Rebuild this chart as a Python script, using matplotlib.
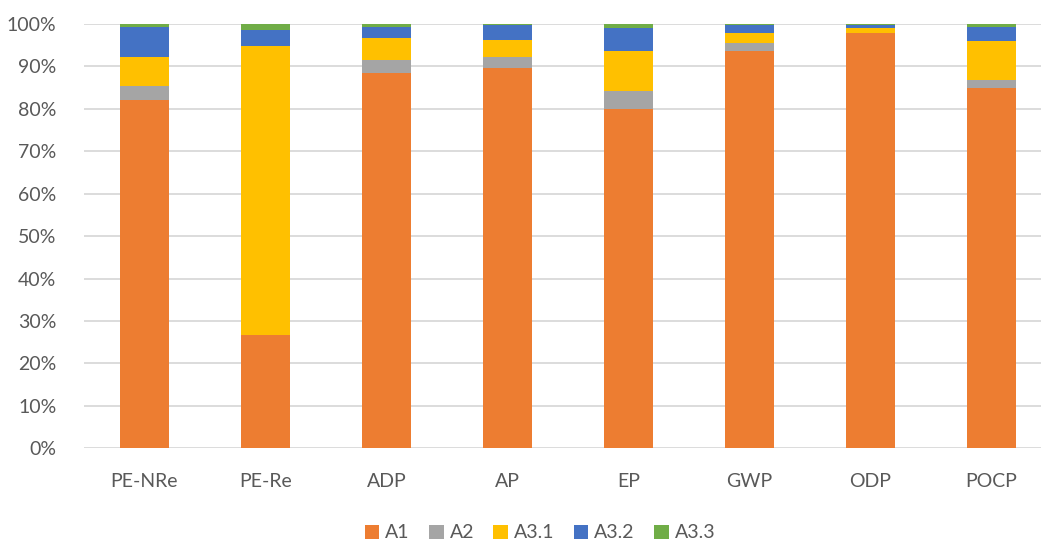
import numpy as np
import matplotlib.pyplot as plt
from matplotlib.ticker import PercentFormatter

categories = ['PE-NRe', 'PE-Re', 'ADP', 'AP', 'EP', 'GWP', 'ODP', 'POCP']
a1 = [82.0, 26.6, 88.4, 89.6, 80.0, 93.7, 97.8, 85.0]
a2 = [3.4, 0.0, 3.0, 2.6, 4.3, 1.9, 0.0, 1.9]
a3_1 = [6.8, 68.3, 5.3, 4.1, 9.3, 2.2, 1.2, 9.0]
a3_2 = [7.1, 3.7, 2.7, 3.4, 5.4, 1.9, 0.7, 3.5]
a3_3 = [0.7, 1.4, 0.6, 0.3, 1.0, 0.3, 0.3, 0.6]

series = [('A1', a1, '#ED7D31'), ('A2', a2, '#A5A5A5'), ('A3.1', a3_1, '#FFC000'),
          ('A3.2', a3_2, '#4472C4'), ('A3.3', a3_3, '#70AD47')]

plt.rcParams['font.family'] = ['Lato', 'DejaVu Sans']

fig = plt.figure(figsize=(10.41, 5.40), dpi=100)
# plot area runs past the right edge, as in the cropped original
ax = fig.add_axes([84 / 1041, 1 - 448.3 / 540, 968 / 1041, 424.3 / 540])

x = np.arange(len(categories))
bottom = np.zeros(len(categories))
for name, vals, col in series:
    vals = np.array(vals)
    ax.bar(x, vals, width=0.4, bottom=bottom, color=col, label=name, zorder=3)
    bottom += vals

ax.set_xlim(-0.5, len(categories) - 0.5)
ax.set_ylim(0, 100)
ax.set_yticks(range(0, 101, 10))
ax.yaxis.set_major_formatter(PercentFormatter(decimals=0))
ax.set_xticks(x)
ax.set_xticklabels(categories)
ax.grid(axis='y', color='#D9D9D9', linewidth=1.3, zorder=0)
for s in ax.spines.values():
    s.set_visible(False)
ax.tick_params(length=0, labelsize=14, colors='#595959')
ax.tick_params(axis='y', pad=20)
ax.tick_params(axis='x', pad=18)

fig.legend(loc='center', bbox_to_anchor=(540 / 1041, 1 - 533 / 540), ncol=5, frameon=False,
           fontsize=14, labelcolor='#595959', handlelength=0.75, handleheight=0.75,
           handletextpad=0.3, columnspacing=1.0)

plt.savefig('out.png', dpi=100)
